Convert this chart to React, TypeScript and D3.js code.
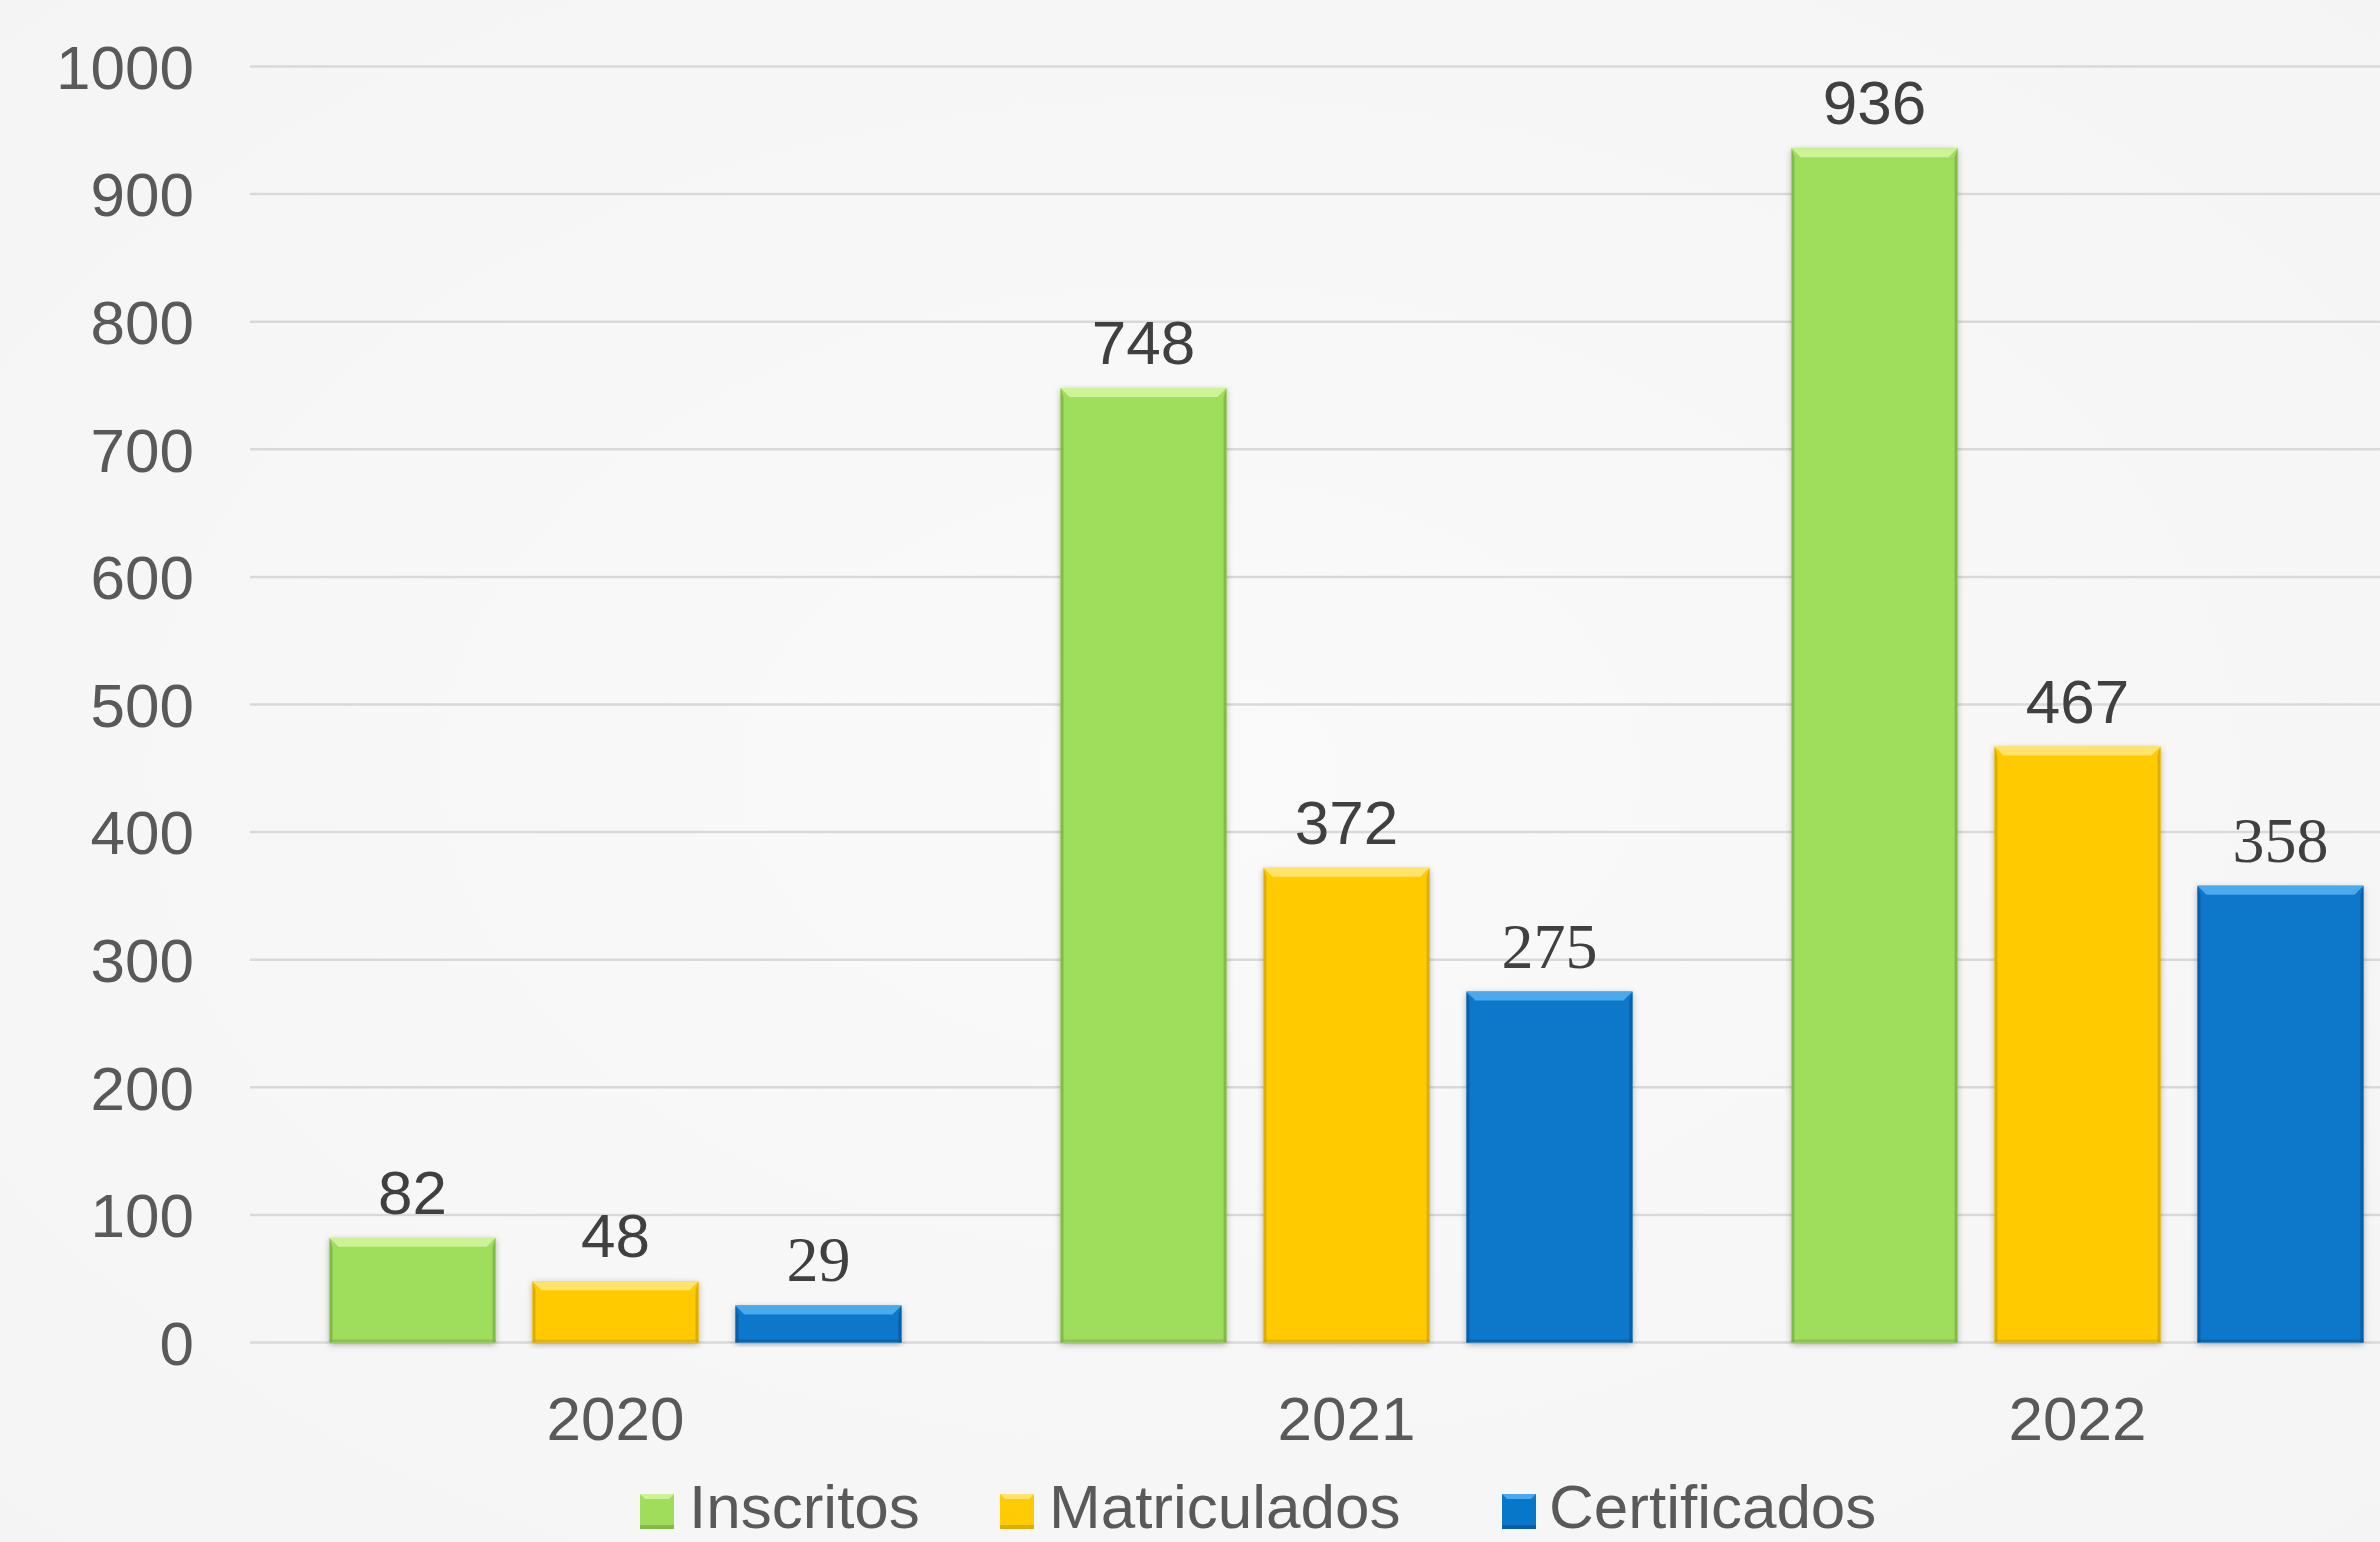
import React from 'react';
import * as d3 from 'd3';

const categories = ['2020', '2021', '2022'];
const seriesNames = ['Inscritos', 'Matriculados', 'Certificados'];
const inscritos = [82, 748, 936];
const matriculados = [48, 372, 467];
const certificados = [29, 275, 358];
const yTicks = [0, 100, 200, 300, 400, 500, 600, 700, 800, 900, 1000];

const seriesValues = [inscritos, matriculados, certificados];
const seriesColors = ['#9FDD5B', '#FFCB05', '#0777C9'];
const seriesLight = ['#CDF396', '#FFE36A', '#4AAAEC'];
const seriesDark = ['#76AE3C', '#CFA000', '#04559A'];
const labelFonts = ['"Liberation Sans", Arial, sans-serif', '"Liberation Sans", Arial, sans-serif', '"Liberation Serif", "Times New Roman", serif'];

const W = 2380;
const H = 1542;

export default function App() {
  const x = d3.scaleBand<string>().domain(categories).range([250, 2443]).padding(0);
  const xs = d3.scaleBand<string>().domain(seriesNames).range([79.5, 651.5]).paddingInner(0.182).paddingOuter(0);
  const y = d3.scaleLinear().domain([0, 1000]).range([1342.5, 66.5]);
  const sans = '"Liberation Sans", Arial, sans-serif';
  const bw = xs.bandwidth();
  const bev = 9;

  const legendItems = [
    { name: seriesNames[0], sx: 640, tx: 689 },
    { name: seriesNames[1], sx: 1000, tx: 1049 },
    { name: seriesNames[2], sx: 1502, tx: 1549 },
  ];
  const ly = 1494;

  return (
    <svg width={W} height={H} style={{ position: 'absolute', left: 0, top: 0, display: 'block' }}>
      <defs>
        <filter id="shadow" x="-10%" y="-10%" width="120%" height="120%">
          <feDropShadow dx="0" dy="2" stdDeviation="3" floodColor="#000" floodOpacity="0.3" />
        </filter>
        <radialGradient id="bg" cx="50%" cy="50%" r="75%">
          <stop offset="0%" stopColor="#FAFAFA" />
          <stop offset="100%" stopColor="#F4F4F4" />
        </radialGradient>
      </defs>
      <rect x={0} y={0} width={W} height={H} fill="url(#bg)" />

      {/* gridlines */}
      {yTicks.map((t) => (
        <line key={'g' + t} x1={250} x2={W} y1={y(t)} y2={y(t)} stroke="#D9D9D9" strokeWidth={2.5} />
      ))}

      {/* y tick labels */}
      {yTicks.map((t) => (
        <text key={'t' + t} x={194} y={y(t)} dy="0.36em" textAnchor="end" fontFamily={sans} fontSize={62} fill="#595959">
          {t}
        </text>
      ))}

      {/* bars */}
      {categories.map((c, ci) =>
        seriesNames.map((s, si) => {
          const v = seriesValues[si][ci];
          const bx = (x(c) as number) + (xs(s) as number);
          const by = y(v);
          const bh = y(0) - by;
          return (
            <g key={c + s}>
              <rect x={bx} y={by} width={bw} height={bh} fill={seriesColors[si]} filter="url(#shadow)" />
              <polygon
                points={`${bx},${by} ${bx + bw},${by} ${bx + bw - bev},${by + bev} ${bx + bev},${by + bev}`}
                fill={seriesLight[si]}
              />
              <polygon
                points={`${bx},${by} ${bx + 3},${by + bev} ${bx + 3},${by + bh} ${bx},${by + bh}`}
                fill={seriesDark[si]}
                opacity={0.7}
              />
              <polygon
                points={`${bx + bw},${by} ${bx + bw - 3},${by + bev} ${bx + bw - 3},${by + bh} ${bx + bw},${by + bh}`}
                fill={seriesDark[si]}
                opacity={0.7}
              />
              <rect x={bx} y={by + bh - 3} width={bw} height={3} fill={seriesDark[si]} opacity={0.5} />
              <text
                x={bx + bw / 2}
                y={by - 24}
                textAnchor="middle"
                fontFamily={labelFonts[si]}
                fontSize={si === 2 ? 64 : 62}
                fill="#404040"
              >
                {v}
              </text>
            </g>
          );
        })
      )}

      {/* category labels */}
      {categories.map((c) => (
        <text key={'c' + c} x={(x(c) as number) + x.bandwidth() / 2} y={1440} textAnchor="middle" fontFamily={sans} fontSize={62} fill="#595959">
          {c}
        </text>
      ))}

      {/* legend */}
      {legendItems.map((it, i) => (
        <g key={'l' + it.name}>
          <rect x={it.sx} y={ly} width={34} height={35} fill={seriesColors[i]} />
          <polygon
            points={`${it.sx},${ly} ${it.sx + 34},${ly} ${it.sx + 29},${ly + 5} ${it.sx + 5},${ly + 5}`}
            fill={seriesLight[i]}
          />
          <rect x={it.sx} y={ly + 31} width={34} height={4} fill={seriesDark[i]} opacity={0.7} />
          <text x={it.tx} y={ly + 34} fontFamily={sans} fontSize={62} fill="#595959">
            {it.name}
          </text>
        </g>
      ))}
    </svg>
  );
}
